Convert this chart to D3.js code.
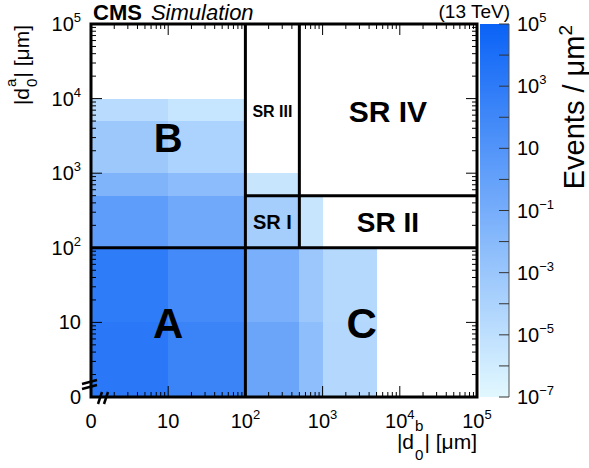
<!DOCTYPE html>
<html>
<head>
<meta charset="utf-8">
<script src="https://cdn.jsdelivr.net/npm/d3@7"></script>
<style>
  body { margin: 0; background: #fff; }
  svg { display: block; }
  text { font-family: "Liberation Sans", Arial, Helvetica, sans-serif; fill: #000; }
</style>
</head>
<body>
<div id="chart"></div>
<script>
// Bordas dos bins em μm (o 0 é desenhado na posição do 1 nos eixos log)
const xEdges = [0, 10, 100, 500, 1000, 5000, 10000, 100000];
const yEdges = [0, 10, 100, 500, 1000, 5000, 10000, 100000];

// Células: [bin x, bin y, eventos / μm²]
const cells = [
  [0, 0, 1600], [1, 0, 200], [0, 1, 870], [1, 1, 60],
  [2, 0, 0.43], [2, 1, 0.072], [3, 0, 4.3e-3], [3, 1, 9e-4], [4, 0, 4e-5], [4, 1, 3e-5],
  [0, 2, 2], [1, 2, 0.2], [0, 3, 0.03], [1, 3, 6e-3],
  [0, 4, 7e-4], [1, 4, 1e-4], [0, 5, 2e-5], [1, 5, 3.6e-6],
  [2, 2, 2.5e-4], [2, 3, 3e-6], [3, 2, 3e-6]
];

// Ticks dos eixos
const axisTicks = [0, 10, 100, 1000, 10000, 100000];
const axisLabels = [["0", ""], ["10", ""], ["10", "2"], ["10", "3"], ["10", "4"], ["10", "5"]];
const zTicks = [1e5, 1e3, 10, 1e-1, 1e-3, 1e-5, 1e-7];
const zLabels = [["10", "5"], ["10", "3"], ["10", ""], ["10", "−1"], ["10", "−3"], ["10", "−5"], ["10", "−7"]];

// Linhas que separam as regiões: [x1, y1, x2, y2] em μm
const boundaries = [
  [100, 0, 100, 100000],
  [0, 100, 100000, 100],
  [500, 100, 500, 100000],
  [100, 500, 100000, 500]
];

// Nomes das regiões e seu centro em μm
const regionNames = ["A", "B", "C", "SR I", "SR II", "SR III", "SR IV"];
const regionX = [10, 10, 3200, 224, 7000, 224, 7000];
const regionY = [10, 3000, 10, 224, 224, 6800, 6800];
const regionSize = [42, 40, 42, 20, 28, 16, 30];

const W = 589, H = 468;
const frame = { left: 91, top: 24, right: 477, bottom: 397 };
const bar = { left: 480, right: 509 };

const svg = d3.select('#chart').append('svg')
  .attr('width', W).attr('height', H);

// Escalas
const x = d3.scaleLog().domain([1, 1e5]).range([frame.left, frame.right]);
const y = d3.scaleLog().domain([1, 1e5]).range([frame.bottom, frame.top]);
const px = v => x(Math.max(v, 1));
const py = v => y(Math.max(v, 1));
const z = d3.scaleLog().domain([1e-7, 1e5]).range([frame.bottom, frame.top]);
const color = d3.scaleSequentialLog(d3.interpolateRgb('#e2f8ff', '#0a62f6')).domain([1e-7, 1e5]);

// Células do histograma
svg.append('g').selectAll('rect')
  .data(cells)
  .join('rect')
  .attr('x', d => px(xEdges[d[0]]))
  .attr('y', d => py(yEdges[d[1] + 1]))
  .attr('width', d => px(xEdges[d[0] + 1]) - px(xEdges[d[0]]))
  .attr('height', d => py(yEdges[d[1]]) - py(yEdges[d[1] + 1]))
  .attr('fill', d => color(d[2]))
  .attr('shape-rendering', 'crispEdges');

// Ticks menores e maiores nos 4 lados
const minor = [];
for (let e = 0; e < 5; e++) for (let k = 2; k <= 9; k++) minor.push(k * Math.pow(10, e));
const major = [10, 100, 1000, 10000];
const tickG = svg.append('g').attr('stroke', '#000').attr('stroke-width', 1);
function ticks(vals, len) {
  vals.forEach(v => {
    const xv = x(v), yv = y(v);
    tickG.append('line').attr('x1', xv).attr('x2', xv).attr('y1', frame.bottom).attr('y2', frame.bottom - len);
    tickG.append('line').attr('x1', xv).attr('x2', xv).attr('y1', frame.top).attr('y2', frame.top + len);
    tickG.append('line').attr('y1', yv).attr('y2', yv).attr('x1', frame.left).attr('x2', frame.left + len);
    tickG.append('line').attr('y1', yv).attr('y2', yv).attr('x1', frame.right).attr('x2', frame.right - len);
  });
}
ticks(minor, 5);
ticks(major, 11);

// Linhas das regiões
svg.append('g').selectAll('line')
  .data(boundaries)
  .join('line')
  .attr('x1', d => px(d[0])).attr('y1', d => py(d[1]))
  .attr('x2', d => px(d[2])).attr('y2', d => py(d[3]))
  .attr('stroke', '#000').attr('stroke-width', 3);

// Moldura
svg.append('rect')
  .attr('x', frame.left).attr('y', frame.top)
  .attr('width', frame.right - frame.left).attr('height', frame.bottom - frame.top)
  .attr('fill', 'none').attr('stroke', '#000').attr('stroke-width', 3);

// Quebras de eixo
const brk = svg.append('g').attr('stroke', '#000').attr('stroke-width', 2.5);
[[82, 384, 97, 380], [82, 389, 97, 385], [98, 404, 102, 392], [104, 404, 108, 392]].forEach(s => {
  brk.append('line').attr('x1', s[0]).attr('y1', s[1]).attr('x2', s[2]).attr('y2', s[3]);
});

// Nomes das regiões
svg.append('g').selectAll('text')
  .data(regionNames)
  .join('text')
  .attr('x', (d, i) => px(regionX[i]))
  .attr('y', (d, i) => py(regionY[i]) + regionSize[i] * 0.36)
  .attr('text-anchor', 'middle')
  .attr('font-weight', 'bold')
  .attr('font-size', (d, i) => regionSize[i])
  .text(d => d);

/** Escreve um texto com expoente */
function powLabel(g, base, exp, xx, yy, anchor) {
  const t = g.append('text').attr('x', xx).attr('y', yy)
    .attr('text-anchor', anchor).attr('font-size', 20);
  t.append('tspan').text(base);
  if (exp) t.append('tspan').attr('font-size', 13).attr('dy', -9).text(exp);
  return t;
}

// Labels dos eixos
const lab = svg.append('g');
axisTicks.forEach((v, i) => {
  powLabel(lab, axisLabels[i][0], axisLabels[i][1], px(v), 428, 'middle');
  powLabel(lab, axisLabels[i][0], axisLabels[i][1], 81, py(v) + 7, 'end');
});

// Barra de cores
const defs = svg.append('defs');
const grad = defs.append('linearGradient').attr('id', 'zgrad')
  .attr('x1', 0).attr('y1', 1).attr('x2', 0).attr('y2', 0);
d3.range(0, 13).forEach(i => {
  const v = Math.pow(10, -7 + i);
  grad.append('stop').attr('offset', i / 12).attr('stop-color', color(v));
});
svg.append('rect')
  .attr('x', bar.left).attr('y', frame.top)
  .attr('width', bar.right - bar.left).attr('height', frame.bottom - frame.top)
  .attr('fill', 'url(#zgrad)');
svg.append('line')
  .attr('x1', bar.right).attr('x2', bar.right).attr('y1', frame.top).attr('y2', frame.bottom)
  .attr('stroke', '#555').attr('stroke-width', 1);
d3.range(-7, 6).forEach(e => {
  const yv = z(Math.pow(10, e));
  svg.append('line').attr('x1', bar.right - 10).attr('x2', bar.right)
    .attr('y1', yv).attr('y2', yv).attr('stroke', '#333').attr('stroke-width', 1);
});
zTicks.forEach((v, i) => {
  powLabel(lab, zLabels[i][0], zLabels[i][1], 517, z(v) + 7, 'start');
});

/** Título |d_0^x| [μm] com índices empilhados */
function dTitle(parent, sup, size, up, down) {
  const g = parent.append('g');
  const t1 = g.append('text').attr('font-size', size).text('|d');
  const w1 = t1.node().getComputedTextLength();
  const s = size * 0.72;
  const tb = g.append('text').attr('x', w1 + 1).attr('y', -size * up).attr('font-size', s).text(sup);
  const t0 = g.append('text').attr('x', w1 + 1).attr('y', size * down).attr('font-size', s).text('0');
  const w2 = Math.max(tb.node().getComputedTextLength(), t0.node().getComputedTextLength());
  const t2 = g.append('text').attr('x', w1 + 2 + w2).attr('font-size', size).text('| [μm]');
  const w = w1 + 2 + w2 + t2.node().getComputedTextLength();
  return { g, w };
}
const xt = dTitle(svg, 'b', 21, 0.85, 0.5);
xt.g.attr('transform', `translate(${frame.right - xt.w},449)`);
const yt = dTitle(svg, 'a', 21, 0.62, 0.38);
yt.g.attr('transform', `translate(29,${frame.top + 1 + yt.w}) rotate(-90)`);

// Título da barra de cores
const zt = svg.append('text')
  .attr('transform', `translate(584,${frame.top + 1}) rotate(-90)`)
  .attr('text-anchor', 'end').attr('font-size', 29);
zt.append('tspan').text('Events / μm');
zt.append('tspan').attr('font-size', 19).attr('dy', -12).text('2');

// CMS Simulation
const cms = svg.append('text').attr('x', 93).attr('y', 20).attr('font-size', 22);
cms.append('tspan').attr('font-weight', 'bold').text('CMS');
cms.append('tspan').attr('font-style', 'italic').attr('dx', 9).text('Simulation');

svg.append('text').attr('x', 510).attr('y', 18)
  .attr('text-anchor', 'end').attr('font-size', 19).text('(13 TeV)');
</script>
</body>
</html>
